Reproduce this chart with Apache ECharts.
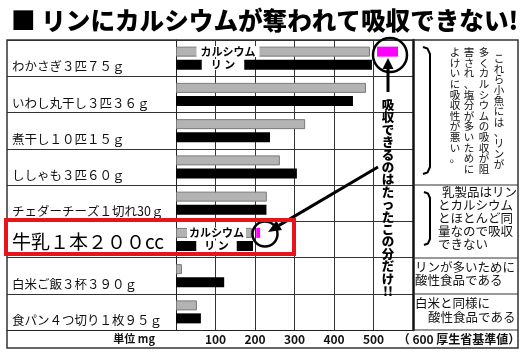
<!DOCTYPE html>
<html>
<head>
<meta charset="utf-8">
<script src="https://cdn.jsdelivr.net/npm/echarts@6/dist/echarts.min.js"></script>
<style>
html, body { margin: 0; padding: 0; background: #fff; }
#main { width: 527px; height: 355px; }
</style>
</head>
<body>
<div id="main"></div>
<script>
// 食品ごとのカルシウムとリン (mg)
var foods = ['わかさぎ３匹７５ｇ', 'いわし丸干し３匹３６ｇ', '煮干し１０匹１５ｇ', 'ししゃも３匹６０ｇ',
  'チェダーチーズ１切れ30ｇ', '牛乳１本２００cc', '白米ご飯３杯３９０ｇ', '食パン４つ切り１枚９５ｇ'];
var calcium = [491, 481, 327, 263, 230, 192, 15, 53];
var phosphorus = [496, 448, 238, 306, 229, 195, 122, 63];
// 吸収できる分 (マゼンタの小さい棒)
var absorbFrom = [509, null, null, null, null, 203, null, null];
var absorbTo = [562, null, null, null, null, 213, null, null];
var xTicks = [0, 100, 200, 300, 400, 500, 600];

var FONT = '"Noto Sans CJK JP", sans-serif';

var spacer = calcium.map(function (c, i) { return absorbFrom[i] == null ? '-' : absorbFrom[i] - c; });
var absorb = absorbFrom.map(function (a, i) { return a == null ? '-' : absorbTo[i] - a; });

function vtext(s) { return s.split('').join('\n'); }

var myChart = echarts.init(document.getElementById('main'));

myChart.setOption({
  animation: false,
  backgroundColor: '#fff',
  title: {
    text: '■ リンにカルシウムが奪われて吸収できない!',
    left: 6, top: 3,
    textStyle: { fontFamily: FONT, fontSize: 24.6, fontWeight: 900, color: '#000' }
  },
  grid: [
    { left: 176, top: 40, width: 237, height: 290 },
    { left: 7, top: 40, width: 169, height: 290 }
  ],
  xAxis: [{
    gridIndex: 0, type: 'value', min: xTicks[0], max: xTicks[xTicks.length - 1], interval: 100,
    axisLine: { show: true, lineStyle: { color: '#222', width: 1 } },
    axisTick: { show: false },
    splitLine: { show: true, lineStyle: { color: '#333', width: 1 } },
    axisLabel: {
      margin: 3, color: '#111', fontSize: 12, fontWeight: 'bold', fontFamily: FONT,
      formatter: function (v) {
        if (v === 0) return '';
        if (v === 600) return '{p|（ 600 厚生省基準値）}';
        return v;
      },
      rich: { p: { padding: [0, 0, 0, 92], fontSize: 12, fontWeight: 'bold', fontFamily: FONT, color: '#111' } }
    },
    name: '単位 mg', nameLocation: 'start', nameGap: 21,
    nameTextStyle: { color: '#111', fontSize: 11, fontWeight: 'bold', fontFamily: FONT, verticalAlign: 'top', padding: [3, 0, 0, 0] }
  }, {
    gridIndex: 1, type: 'value', min: 0, max: 1,
    axisLine: { show: true, onZero: false, lineStyle: { color: '#222', width: 1 } },
    axisTick: { show: false }, axisLabel: { show: false }, splitLine: { show: false }
  }],
  yAxis: [{
    gridIndex: 0, type: 'category', data: foods, inverse: true,
    axisLine: { show: true, lineStyle: { color: '#222', width: 1 } },
    axisTick: { show: false }, axisLabel: { show: false },
    splitLine: { show: true, lineStyle: { color: '#333', width: 1 } }
  }, {
    gridIndex: 0, type: 'category', data: foods, inverse: true, position: 'right',
    axisLine: { show: true, lineStyle: { color: '#111', width: 2.5 } },
    axisTick: { show: false }, axisLabel: { show: false }, splitLine: { show: false }
  }, {
    gridIndex: 1, type: 'category', data: foods, inverse: true,
    axisLine: { show: false }, axisTick: { show: false },
    splitLine: { show: true, lineStyle: { color: '#333', width: 1 } },
    axisLabel: {
      inside: true, margin: 5, align: 'left',
      formatter: function (v) { return v.indexOf('牛乳') === 0 ? '{big|' + v + '}' : '{n|' + v + '}'; },
      rich: {
        n: { fontFamily: FONT, fontSize: 12.5, color: '#111', padding: [17, 0, 0, 0] },
        big: { fontFamily: FONT, fontSize: 19, color: '#000', padding: [5, 0, 0, 0] }
      }
    }
  }],
  series: [{
    name: 'カルシウム', type: 'bar', xAxisIndex: 0, yAxisIndex: 0, stack: 'ca',
    barWidth: 10, barGap: '30%', data: calcium,
    itemStyle: { color: '#b3b3b3', borderColor: '#7a7a7a', borderWidth: 1 }
  }, {
    name: 'spacer', type: 'bar', xAxisIndex: 0, yAxisIndex: 0, stack: 'ca',
    barWidth: 10, data: spacer, silent: true,
    itemStyle: { color: 'rgba(0,0,0,0)' }
  }, {
    name: '吸収できる分', type: 'bar', xAxisIndex: 0, yAxisIndex: 0, stack: 'ca',
    barWidth: 10, data: absorb,
    itemStyle: { color: '#ff00ff' }
  }, {
    name: 'リン', type: 'bar', xAxisIndex: 0, yAxisIndex: 0, stack: 'p',
    barWidth: 10, barGap: '30%', data: phosphorus,
    itemStyle: { color: '#000' }
  }],
  graphic: [
    // 表の外枠と右欄の罫線
    { type: 'rect', z: 50, shape: { x: 7, y: 40, width: 511, height: 308 }, style: { fill: 'none', stroke: '#333', lineWidth: 1.5 } },
    { type: 'line', z: 50, shape: { x1: 413, y1: 185, x2: 518, y2: 185 }, style: { stroke: '#333', lineWidth: 1 } },
    { type: 'line', z: 50, shape: { x1: 413, y1: 258, x2: 518, y2: 258 }, style: { stroke: '#333', lineWidth: 1 } },
    { type: 'line', z: 50, shape: { x1: 413, y1: 294, x2: 518, y2: 294 }, style: { stroke: '#333', lineWidth: 1 } },
    { type: 'line', z: 50, shape: { x1: 413, y1: 330, x2: 518, y2: 330 }, style: { stroke: '#333', lineWidth: 1 } },
    // かっこ
    { type: 'polyline', z: 50, shape: { points: [[423, 47], [427.5, 48.5], [430, 54], [430, 167], [427.5, 172.5], [423, 174]] }, style: { fill: 'none', stroke: '#000', lineWidth: 2 } },
    { type: 'polyline', z: 50, shape: { points: [[424, 192], [428, 193.5], [430, 198], [430, 239], [428, 243.5], [424, 245]] }, style: { fill: 'none', stroke: '#000', lineWidth: 2 } },
    // 縦書きの説明
    { type: 'text', z: 50, style: { text: vtext('これら小魚には、リンが'), x: 499, y: 53, textAlign: 'center', textVerticalAlign: 'top', fill: '#111', font: '10.5px ' + FONT, lineHeight: 10.6 } },
    { type: 'text', z: 50, style: { text: vtext('多くカルシウムの吸収が阻'), x: 484, y: 47, textAlign: 'center', textVerticalAlign: 'top', fill: '#111', font: '10.5px ' + FONT, lineHeight: 10.6 } },
    { type: 'text', z: 50, style: { text: vtext('害され、塩分が多いために'), x: 469, y: 47, textAlign: 'center', textVerticalAlign: 'top', fill: '#111', font: '10.5px ' + FONT, lineHeight: 10.6 } },
    { type: 'text', z: 50, style: { text: vtext('よけいに吸収性が悪い。'), x: 455, y: 47, textAlign: 'center', textVerticalAlign: 'top', fill: '#111', font: '10.5px ' + FONT, lineHeight: 10.6 } },
    // 右欄の横書き
    { type: 'text', z: 50, style: { text: '乳製品はリン', x: 442, y: 192, textVerticalAlign: 'middle', fill: '#111', font: '12.5px ' + FONT } },
    { type: 'text', z: 50, style: { text: 'とカルシウム\nとほとんど同\n量なので吸収\nできない', x: 438, y: 198.5, textVerticalAlign: 'top', fill: '#111', font: '12.5px ' + FONT, lineHeight: 13 } },
    { type: 'text', z: 50, style: { text: 'リンが多いために\n酸性食品である', x: 415, y: 260.5, textVerticalAlign: 'top', fill: '#111', font: '12.5px ' + FONT, lineHeight: 13 } },
    { type: 'text', z: 50, style: { text: '白米と同様に', x: 415, y: 303, textVerticalAlign: 'middle', fill: '#111', font: '12.5px ' + FONT } },
    { type: 'text', z: 50, style: { text: '酸性食品である', x: 428, y: 317, textVerticalAlign: 'middle', fill: '#111', font: '12.5px ' + FONT } },
    // 棒の上の凡例文字
    { type: 'text', z: 60, style: { text: 'カルシウム', x: 228, y: 51.5, textAlign: 'center', textVerticalAlign: 'middle', fill: '#000', font: 'bold 11px ' + FONT, backgroundColor: '#fff', padding: [0, 4], lineHeight: 11 } },
    { type: 'text', z: 60, style: { text: 'リ ン', x: 223, y: 64.5, textAlign: 'center', textVerticalAlign: 'middle', fill: '#000', font: 'bold 11px ' + FONT, backgroundColor: '#fff', padding: [0, 9], lineHeight: 11 } },
    { type: 'text', z: 60, style: { text: 'カルシウム', x: 216.5, y: 233, textAlign: 'center', textVerticalAlign: 'middle', fill: '#000', font: 'bold 11px ' + FONT, backgroundColor: '#fff', padding: [0, 2], lineHeight: 11 } },
    { type: 'text', z: 60, style: { text: 'リ ン', x: 216.5, y: 246, textAlign: 'center', textVerticalAlign: 'middle', fill: '#000', font: 'bold 11px ' + FONT, backgroundColor: '#fff', padding: [0, 8], lineHeight: 11 } },
    // 丸と矢印
    { type: 'circle', z: 70, shape: { cx: 390, cy: 55, r: 17 }, style: { fill: 'none', stroke: '#000', lineWidth: 2.5 } },
    { type: 'circle', z: 70, shape: { cx: 265, cy: 234, r: 12.5 }, style: { fill: 'none', stroke: '#000', lineWidth: 2.5 } },
    { type: 'line', z: 70, shape: { x1: 388, y1: 92, x2: 388, y2: 68 }, style: { stroke: '#000', lineWidth: 3 } },
    { type: 'polygon', z: 70, shape: { points: [[388, 58], [382.5, 69], [393.5, 69]] }, style: { fill: '#000' } },
    { type: 'line', z: 70, shape: { x1: 378, y1: 167, x2: 279, y2: 225.4 }, style: { stroke: '#000', lineWidth: 3 } },
    { type: 'polygon', z: 70, shape: { points: [[268, 232], [282, 230.1], [276.4, 220.7]] }, style: { fill: '#000' } },
    { type: 'text', z: 70, style: { text: vtext('吸収できるのはたったこの分だけ') + '\n!!', x: 388, y: 99, textAlign: 'center', textVerticalAlign: 'top', fill: '#000', font: '900 12.5px ' + FONT, lineHeight: 12.4 } },
    // 牛乳の赤枠
    { type: 'rect', z: 80, shape: { x: 6, y: 220, width: 288, height: 34 }, style: { fill: 'none', stroke: '#e8141c', lineWidth: 4 } }
  ]
});
</script>
</body>
</html>
